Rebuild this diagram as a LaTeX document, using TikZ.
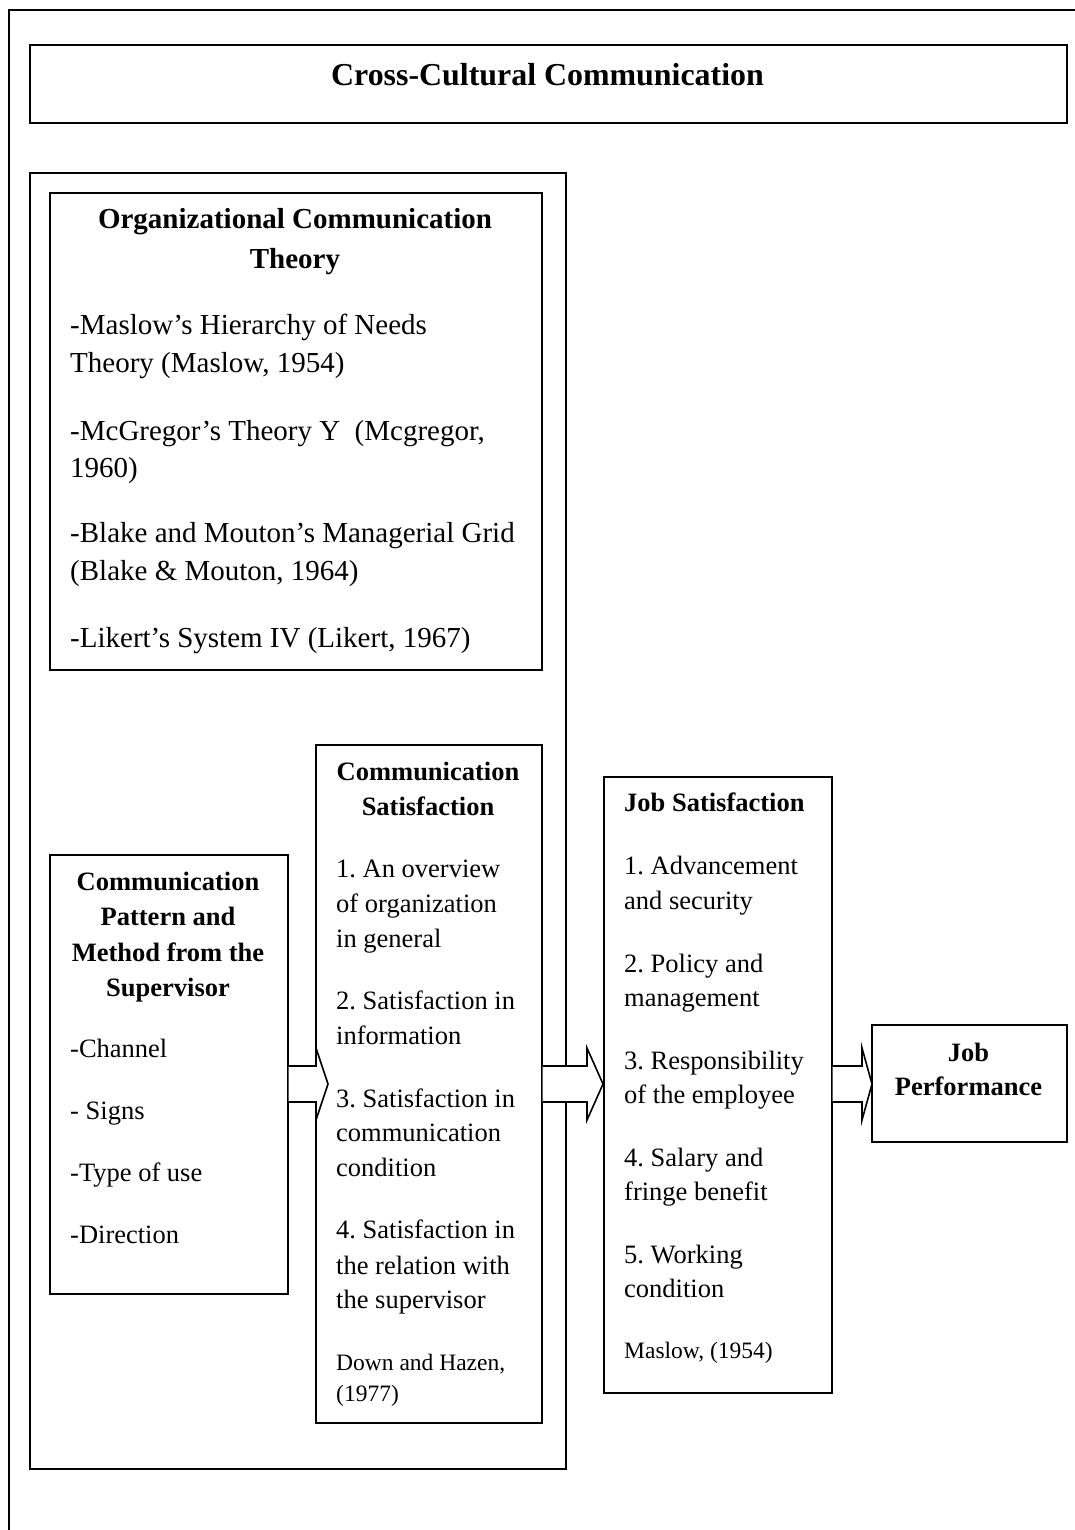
\documentclass[tikz,border=0pt]{standalone}
\usepackage{fontspec}
\setmainfont{Liberation Serif}
\frenchspacing
\begin{document}
\begin{tikzpicture}[x=1pt,y=-1pt,
  box/.style={draw, line width=1.6pt, inner sep=0pt, rectangle, anchor=north west},
  arr/.style={draw, line width=1.6pt, fill=white, line join=miter},
  titlef/.style={font=\fontsize{31.9}{38}\selectfont\bfseries},
  bigf/.style={font=\fontsize{29}{36}\selectfont},
  bigbf/.style={font=\fontsize{29}{36}\selectfont\bfseries},
  medf/.style={font=\fontsize{26.5}{33}\selectfont},
  medbf/.style={font=\fontsize{26.5}{33}\selectfont\bfseries},
  smallf/.style={font=\fontsize{23.5}{29}\selectfont},
  txt/.style={inner sep=0pt, anchor=base west},
  ctxt/.style={inner sep=0pt, anchor=base}]
\useasboundingbox (0,0) rectangle (1075,1530);
% outer frame (cropped on right and bottom)
\draw[line width=1.6pt] (9,1530) -- (9,10) -- (1075,10);
% boxes
\node[box, minimum width=1037pt, minimum height=78pt] (titlebox) at (29,44) {};
\node[box, minimum width=536pt, minimum height=1296pt] (container) at (29,172) {};
\node[box, minimum width=492pt, minimum height=477pt] (org) at (49,192) {};
\node[box, minimum width=238pt, minimum height=439pt] (pattern) at (49,854) {};
\node[box, minimum width=226pt, minimum height=678pt] (commsat) at (315,744) {};
\node[box, minimum width=228pt, minimum height=616pt] (jobsat) at (603,776) {};
\node[box, minimum width=195pt, minimum height=117pt] (jobperf) at (871,1024) {};
% title
\node[ctxt, titlef] (title) at (547.5,86) {Cross-Cultural Communication};
% org theory
\node[ctxt, bigbf] (orgh1) at (295,229) {Organizational Communication};
\node[ctxt, bigbf] (orgh2) at (295,269) {Theory};
\node[txt, bigf] (o1a) at (70,334) {-Maslow’s Hierarchy of Needs};
\node[txt, bigf] (o1b) at (70,372) {Theory (Maslow, 1954)};
\node[txt, bigf] (o2a) at (70,440) {-McGregor’s Theory Y\ \ (Mcgregor,};
\node[txt, bigf] (o2b) at (70,477) {1960)};
\node[txt, bigf] (o3a) at (70,542) {-Blake and Mouton’s Managerial Grid};
\node[txt, bigf] (o3b) at (70,580) {(Blake \& Mouton, 1964)};
\node[txt, bigf] (o4a) at (70,647) {-Likert’s System IV (Likert, 1967)};
% pattern box
\node[ctxt, medbf] (ph1) at (168,890) {Communication};
\node[ctxt, medbf] (ph2) at (168,925) {Pattern and};
\node[ctxt, medbf] (ph3) at (168,961) {Method from the};
\node[ctxt, medbf] (ph4) at (168,996) {Supervisor};
\node[txt, medf] (p1) at (70,1057) {-Channel};
\node[txt, medf] (p2) at (70,1119) {- Signs};
\node[txt, medf] (p3) at (70,1181) {-Type of use};
\node[txt, medf] (p4) at (70,1243) {-Direction};
% communication satisfaction
\node[ctxt, medbf] (ch1) at (428,780) {Communication};
\node[ctxt, medbf] (ch2) at (428,815) {Satisfaction};
\node[txt, medf] (c1a) at (336,877) {1. An overview};
\node[txt, medf] (c1b) at (336,912) {of organization};
\node[txt, medf] (c1c) at (336,947) {in general};
\node[txt, medf] (c2a) at (336,1009) {2. Satisfaction in};
\node[txt, medf] (c2b) at (336,1044) {information};
\node[txt, medf] (c3a) at (336,1107) {3. Satisfaction in};
\node[txt, medf] (c3b) at (336,1141) {communication};
\node[txt, medf] (c3c) at (336,1176) {condition};
\node[txt, medf] (c4a) at (336,1238) {4. Satisfaction in};
\node[txt, medf] (c4b) at (336,1274) {the relation with};
\node[txt, medf] (c4c) at (336,1308) {the supervisor};
\node[txt, smallf] (c5a) at (336,1370) {Down and Hazen,};
\node[txt, smallf] (c5b) at (336,1401) {(1977)};
% job satisfaction
\node[txt, medbf] (jh) at (624,811) {Job Satisfaction};
\node[txt, medf] (j1a) at (624,874) {1. Advancement};
\node[txt, medf] (j1b) at (624,909) {and security};
\node[txt, medf] (j2a) at (624,972) {2. Policy and};
\node[txt, medf] (j2b) at (624,1006) {management};
\node[txt, medf] (j3a) at (624,1069) {3. Responsibility};
\node[txt, medf] (j3b) at (624,1103) {of the employee};
\node[txt, medf] (j4a) at (624,1166) {4. Salary and};
\node[txt, medf] (j4b) at (624,1200) {fringe benefit};
\node[txt, medf] (j5a) at (624,1263) {5. Working};
\node[txt, medf] (j5b) at (624,1297) {condition};
\node[txt, smallf] (j6) at (624,1358) {Maslow, (1954)};
% job performance
\node[ctxt, medbf] (jp1) at (968.5,1061) {Job};
\node[ctxt, medbf] (jp2) at (968.5,1095) {Performance};
% block arrows
\coordinate (u) at (0,1066);
\coordinate (l) at (0,1102);
\draw[arr] (pattern.east |- u) -- (316,1066) -- (316,1048) -- (328,1084) -- (316,1120) -- (316,1102) -- (pattern.east |- l);
\draw[arr] (commsat.east |- u) -- (587,1066) -- (587,1048) -- (603,1084) -- (587,1120) -- (587,1102) -- (commsat.east |- l);
\draw[arr] (jobsat.east |- u) -- (862,1066) -- (862,1048) -- (872,1084) -- (862,1120) -- (862,1102) -- (jobsat.east |- l);
\end{tikzpicture}
\end{document}
